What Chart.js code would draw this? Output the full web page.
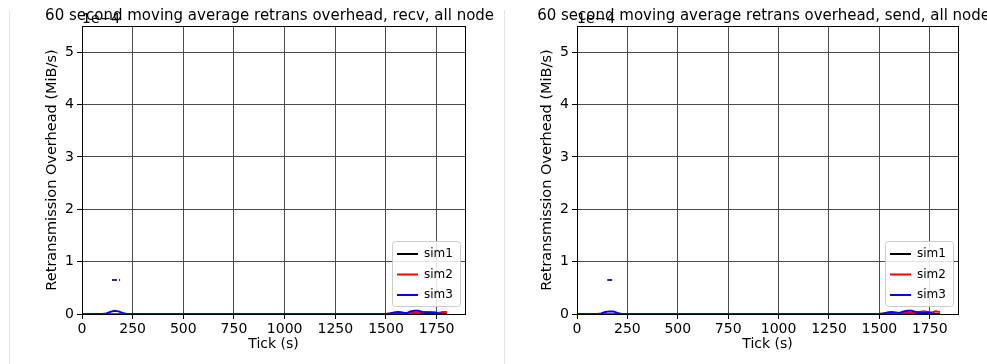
<!DOCTYPE html>
<html><head><meta charset="utf-8">
<script src="https://cdn.jsdelivr.net/npm/chart.js@4.4.1/dist/chart.umd.min.js"></script>
<style>
body{margin:0;background:#fff;width:987px;height:364px;overflow:hidden;position:relative;font-family:"DejaVu Sans";}
.wrap{position:absolute;top:0;height:364px;}
#w1{left:0;width:495px;}
#w2{left:495px;width:492px;}
</style></head><body>
<div id="w1" class="wrap"><canvas id="c1" width="495" height="364"></canvas></div>
<div id="w2" class="wrap"><canvas id="c2" width="492" height="364"></canvas></div>
<script>
// ---- data (values in units of 1e-4 MiB/s) ----
const ticks = [0, 100, 120, 140, 160, 180, 200, 220, 1500, 1520, 1540, 1560, 1580, 1600, 1620, 1640, 1660, 1680, 1700, 1720, 1740, 1760, 1780, 1800];
const recvSim1 = [0,0,0,0,0,0,0,0, 0,0,0,0,0,0,0,0,0,0,0,0,0,0,0,0];
const recvSim2 = [0,0,0,0,0,0,0,0, 0,0.01,0.02,0.03,0.02,0.01,0.02,0.03,0.02,0.03,0.04,0.04,0.03,0.02,0.04,0.04];
const recvSim3 = [0,0,0.01,0.04,0.06,0.05,0.02,0, 0,0.01,0.03,0.04,0.03,0.01,0.05,0.06,0.06,0.04,0.03,0.02,0.03,0.01,0,0];
const sendSim1 = [0,0,0,0,0,0,0,0, 0,0,0,0,0,0,0,0,0,0,0,0,0,0,0,0];
const sendSim2 = [0,0,0,0,0,0,0,0, 0,0.01,0.02,0.03,0.02,0.01,0.02,0.03,0.02,0.03,0.04,0.05,0.04,0.03,0.05,0.04];
const sendSim3 = [0,0,0.01,0.04,0.05,0.05,0.02,0, 0,0.01,0.03,0.04,0.03,0.02,0.05,0.06,0.06,0.04,0.03,0.02,0.03,0.01,0,0];
const recvPeakTicks = [148, 188];
const recvPeak = [0.65, 0.65];
const sendPeakTicks = [150, 185];
const sendPeak = [0.65, 0.65];
const xTickLabels = [0, 250, 500, 750, 1000, 1250, 1500, 1750];
const yTickLabels = [0, 1, 2, 3, 4, 5];
const seriesNames = ['sim1', 'sim2', 'sim3'];
const seriesColors = ['#000000', '#ff0000', '#0000ff'];

const FONT = '"DejaVu Sans", sans-serif';
function pts(xs, ys){ return xs.map((x,i)=>({x:x, y:ys[i]})); }

const decoPlugin = {
  id:'deco',
  beforeDraw(chart){
    const ctx = chart.ctx;
    ctx.save();
    ctx.strokeStyle = '#e4e4e4';
    ctx.lineWidth = 1;
    ctx.beginPath(); ctx.moveTo(9.5, 10); ctx.lineTo(9.5, 364); ctx.stroke();
    ctx.restore();
  },
  afterDraw(chart, args, opts){
    const ctx = chart.ctx, ca = chart.chartArea;
    ctx.save();
    // frame
    ctx.strokeStyle = '#000'; ctx.lineWidth = 1;
    ctx.strokeRect(Math.round(ca.left)+0.5, Math.round(ca.top)+0.5, Math.round(ca.right-ca.left), Math.round(ca.bottom-ca.top));
    // title
    ctx.fillStyle = '#000';
    ctx.font = '15px ' + FONT;
    ctx.textAlign = 'center'; ctx.textBaseline = 'alphabetic';
    ctx.fillText(opts.title, (ca.left+ca.right)/2, 20);
    // offset text
    ctx.font = '14px ' + FONT;
    ctx.textAlign = 'left';
    ctx.fillText('1e\u22124', ca.left, 23);
    // legend
    const bw = 68, bh = 65;
    const bx = ca.right - 5 - bw, by = ca.bottom - 8 - bh;
    ctx.fillStyle = 'rgba(255,255,255,0.85)';
    ctx.strokeStyle = '#cccccc';
    ctx.beginPath();
    if (ctx.roundRect) ctx.roundRect(bx+0.5, by+0.5, bw, bh, 3); else ctx.rect(bx+0.5, by+0.5, bw, bh);
    ctx.fill(); ctx.stroke();
    ctx.font = '12px ' + FONT;
    ctx.textBaseline = 'middle';
    const rows = [13, 33.5, 54];
    seriesNames.forEach((n,i)=>{
      const y = by + rows[i];
      ctx.strokeStyle = seriesColors[i]; ctx.lineWidth = 2;
      ctx.beginPath(); ctx.moveTo(bx+5, y); ctx.lineTo(bx+26, y); ctx.stroke();
      ctx.fillStyle = '#000';
      ctx.fillText(n, bx+32, y);
    });
    ctx.restore();
  }
};

function makeChart(id, title, s1, s2, s3, pkx, pky, padRight){
  const ds = [s1, s2, s3].map((d,i)=>({
    label: seriesNames[i], data: pts(ticks, d), borderColor: seriesColors[i],
    borderWidth: 2, pointRadius: 0, tension: 0, fill: false, order: 3-i
  }));
  ds.push({label:'peak', data: pts(pkx, pky), borderColor:'#3b2a8c', borderWidth:2,
    borderDash:[5,2], pointRadius:0, fill:false, order:0});
  return new Chart(document.getElementById(id), {
    type:'line',
    data:{datasets: ds},
    options:{
      responsive:false, animation:false, devicePixelRatio:1,
      layout:{padding:{top:26, right:padRight, left:0, bottom:0}},
      plugins:{legend:{display:false}, tooltip:{enabled:false}, title:{display:false}, deco:{title:title}},
      scales:{
        x:{type:'linear', min:0, max:1890,
          afterBuildTicks(s){ s.ticks = xTickLabels.map(v=>({value:v})); },
          afterFit(s){ s.height = 50; },
          ticks:{font:{family:FONT,size:14}, color:'#000', padding:2, maxRotation:0, autoSkip:false, includeBounds:false,
            callback:(v)=>String(v)},
          grid:{color:'#4a4a4a', lineWidth:1, tickLength:5, tickColor:'#000'},
          border:{color:'#000'},
          title:{display:true, text:'Tick (s)', color:'#000', font:{family:FONT,size:14}, padding:{top:0,bottom:11}}
        },
        y:{type:'linear', min:0, max:5.5,
          afterBuildTicks(s){ s.ticks = yTickLabels.map(v=>({value:v})); },
          afterFit(s){ s.width = 82; },
          ticks:{font:{family:FONT,size:14}, color:'#000', padding:3, includeBounds:false,
            callback:(v)=>String(v)},
          grid:{color:'#4a4a4a', lineWidth:1, tickLength:5, tickColor:'#000'},
          border:{color:'#000'},
          title:{display:true, text:'Retransmission Overhead (MiB/s)', color:'#000', font:{family:FONT,size:14.5}, padding:{top:44,bottom:0}}
        }
      }
    },
    plugins:[decoPlugin]
  });
}
makeChart('c1', '60 second moving average retrans overhead, recv, all nodes', recvSim1, recvSim2, recvSim3, recvPeakTicks, recvPeak, 30);
makeChart('c2', '60 second moving average retrans overhead, send, all nodes', sendSim1, sendSim2, sendSim3, sendPeakTicks, sendPeak, 29);
</script>
</body></html>
